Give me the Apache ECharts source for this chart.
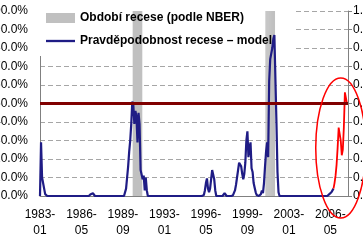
<!DOCTYPE html>
<html>
<head>
<meta charset="utf-8">
<script src="https://cdn.jsdelivr.net/npm/echarts@6/dist/echarts.min.js"></script>
<style>
html,body{margin:0;padding:0;background:#fff;}
#chart{width:363px;height:243px;}
</style>
</head>
<body>
<div id="chart"></div>
<script>
// ---- data ----
const startYear = 1983;
const monthCount = 298; // 1983-01 .. 2007-10
const categories = [];
for (let i = 0; i < monthCount; i++) {
  const y = startYear + Math.floor(i / 12);
  const m = (i % 12) + 1;
  categories.push(y + '-' + String(m).padStart(2, '0'));
}
const xTickLabels = ['1983-01','1986-05','1989-09','1993-01','1996-05','1999-09','2003-01','2006-05'];

const seriesNames = ['Období recese (podle NBER)', 'Pravděpodobnost recese – model'];

// NBER recessions (start, end)
const recessions = [['1990-07','1991-03'], ['2001-03','2001-11']];

// model probability, monthly from 1983-01 (one row per year)
const probability = [
  0,0.29,0.10,0.09,0.04,0.01,0,0,0,0,0,0,            // 1983
  0,0,0,0,0,0,0,0,0,0,0,0,                            // 1984
  0,0,0,0,0,0,0,0,0,0,0,0,                            // 1985
  0,0,0,0,0,0,0,0,0,0,0,0,                            // 1986
  0,0.01,0.02,0.015,0.005,0,0,0,0,0,0,0,              // 1987
  0,0,0,0,0,0,0,0,0,0,0,0,                            // 1988
  0,0,0,0,0,0,0,0,0,0,0.01,0.04,                      // 1989
  0.10,0.16,0.24,0.30,0.39,0.51,0.49,0.39,0.46,0.43,0.29,0.45, // 1990
  0.39,0.14,0.13,0.09,0.11,0.03,0.10,0.03,0,0,0,0,    // 1991
  0,0,0,0,0,0,0,0,0,0,0,0,                            // 1992
  0,0,0,0,0,0,0,0,0,0,0,0,                            // 1993
  0,0,0,0,0,0,0,0,0,0,0,0,                            // 1994
  0,0,0,0,0,0,0,0,0,0,0,0,                            // 1995
  0,0,0.005,0.03,0.07,0.095,0.04,0.02,0.04,0.09,0.14,0.14, // 1996
  0.09,0.03,0,0,0,0,0,0,0,0.005,0.015,0.005,          // 1997
  0,0,0,0,0,0,0.003,0.01,0.03,0.06,0.10,0.14,         // 1998
  0.18,0.19,0.16,0.12,0.09,0.12,0.18,0.30,0.35,0.21,0.26,0.29, // 1999
  0.15,0.13,0.07,0.045,0.02,0.005,0,0,0,0.01,0.03,0.015, // 2000
  0.07,0.16,0.24,0.29,0.21,0.62,0.74,0.75,0.80,0.85,0.87,0.88, // 2001
  0.40,0.13,0.02,0,0,0,0,0,0,0,0,0,                   // 2002
  0,0,0,0,0,0,0,0,0,0,0,0,                            // 2003
  0,0,0,0,0,0,0,0,0,0,0,0,                            // 2004
  0,0,0,0,0,0,0,0,0,0,0,0,                            // 2005
  0,0,0.005,0.01,0.015,0.02,0.03,0.04                 // 2006-01 .. 2006-08
];

// latest months highlighted in red
const highlightStart = '2006-08';
const highlightValues = [0.04,0.07,0.11,0.17,0.26,0.37,0.38,0.30,0.22,0.25,0.37,0.56,0.57,0.50];

const threshold = 0.5;

// ---- build ----
const recessionData = categories.map(c => {
  for (const [a, b] of recessions) if (c >= a && c <= b) return 1;
  return '-';
});
const probData = categories.map((c, i) => i < probability.length ? probability[i] : '-');
const hs = categories.indexOf(highlightStart);
const highlightData = categories.map((c, i) => {
  const k = i - hs;
  return (k >= 0 && k < highlightValues.length) ? highlightValues[k] : '-';
});

const font = 'Arial, "Liberation Sans", sans-serif';
const chart = echarts.init(document.getElementById('chart'));
const option = {
  animation: false,
  textStyle: { fontFamily: font },
  grid: { left: 40, right: 15, top: 11, bottom: 47, containLabel: false, outerBoundsMode: 'none' },
  legend: {
    orient: 'vertical', left: 46, top: 11, padding: 0, itemGap: 9,
    itemWidth: 29, itemHeight: 10, symbolKeepAspect: true,
    textStyle: { fontSize: 12, fontWeight: 'bold', color: '#000', fontFamily: font, lineHeight: 14 },
    data: [
      { name: seriesNames[0], icon: 'rect' },
      { name: seriesNames[1], icon: 'path://M0,0 L30,0 L30,2.4 L0,2.4 Z' }
    ]
  },
  xAxis: {
    type: 'category', data: categories, boundaryGap: false,
    axisLine: { show: true, lineStyle: { color: '#808080' } },
    axisTick: { show: false },
    axisLabel: {
      interval: (idx, val) => xTickLabels.indexOf(val) >= 0,
      formatter: v => v.replace('-', '-\n'),
      fontSize: 12, color: '#000', lineHeight: 16, margin: 11, fontFamily: font,
      hideOverlap: false
    },
    splitLine: { show: false }
  },
  yAxis: [{
    type: 'value', min: 0, max: 1, interval: 0.1, position: 'left',
    axisLine: { show: true, lineStyle: { color: '#808080' } },
    axisTick: { show: false },
    axisLabel: { formatter: v => (v * 100).toFixed(1) + '%', fontSize: 12, color: '#000', margin: 12, fontFamily: font },
    splitLine: { show: true, lineStyle: { type: [5, 3], color: '#a6a6a6', width: 1 } }
  }, {
    type: 'value', min: 0, max: 1, interval: 0.1, position: 'right',
    axisLine: { show: true, lineStyle: { color: '#808080' } },
    axisTick: { show: true, inside: false, length: 4, lineStyle: { color: '#808080' } },
    axisLabel: { formatter: v => v.toFixed(1), fontSize: 12, color: '#000', margin: 5, fontFamily: font },
    splitLine: { show: false }
  }],
  series: [{
    name: seriesNames[0], type: 'bar', data: recessionData, barWidth: '130%',
    itemStyle: { color: '#c0c0c0' }, z: 2
  }, {
    name: seriesNames[1], type: 'line', data: probData, symbol: 'none',
    lineStyle: { color: '#1f1c85', width: 2.2 }, itemStyle: { color: '#1f1c85' }, z: 3,
    markLine: {
      silent: true, symbol: 'none', label: { show: false },
      lineStyle: { color: '#800000', width: 3, type: 'solid' },
      data: [{ yAxis: threshold }]
    }
  }, {
    name: 'highlight', type: 'line', data: highlightData, symbol: 'none',
    lineStyle: { color: '#ff0000', width: 1.8 }, itemStyle: { color: '#ff0000' }, z: 4
  }]
};
chart.setOption(option);

// white backing behind the legend and the red annotation ellipse
const c = chart.convertToPixel({ xAxisIndex: 0, yAxisIndex: 0 }, ['2007-03', 0.26]);
chart.setOption({
  graphic: [{
    type: 'rect', z: 1, silent: true,
    shape: { x: 38, y: 0, width: 258, height: 56 },
    style: { fill: '#fff' }
  }, {
    type: 'ellipse', z: 10, silent: true,
    shape: { cx: c[0], cy: c[1], rx: 25, ry: 70 },
    style: { fill: 'none', stroke: '#ff0000', lineWidth: 1.5 }
  }]
});
</script>
</body>
</html>
